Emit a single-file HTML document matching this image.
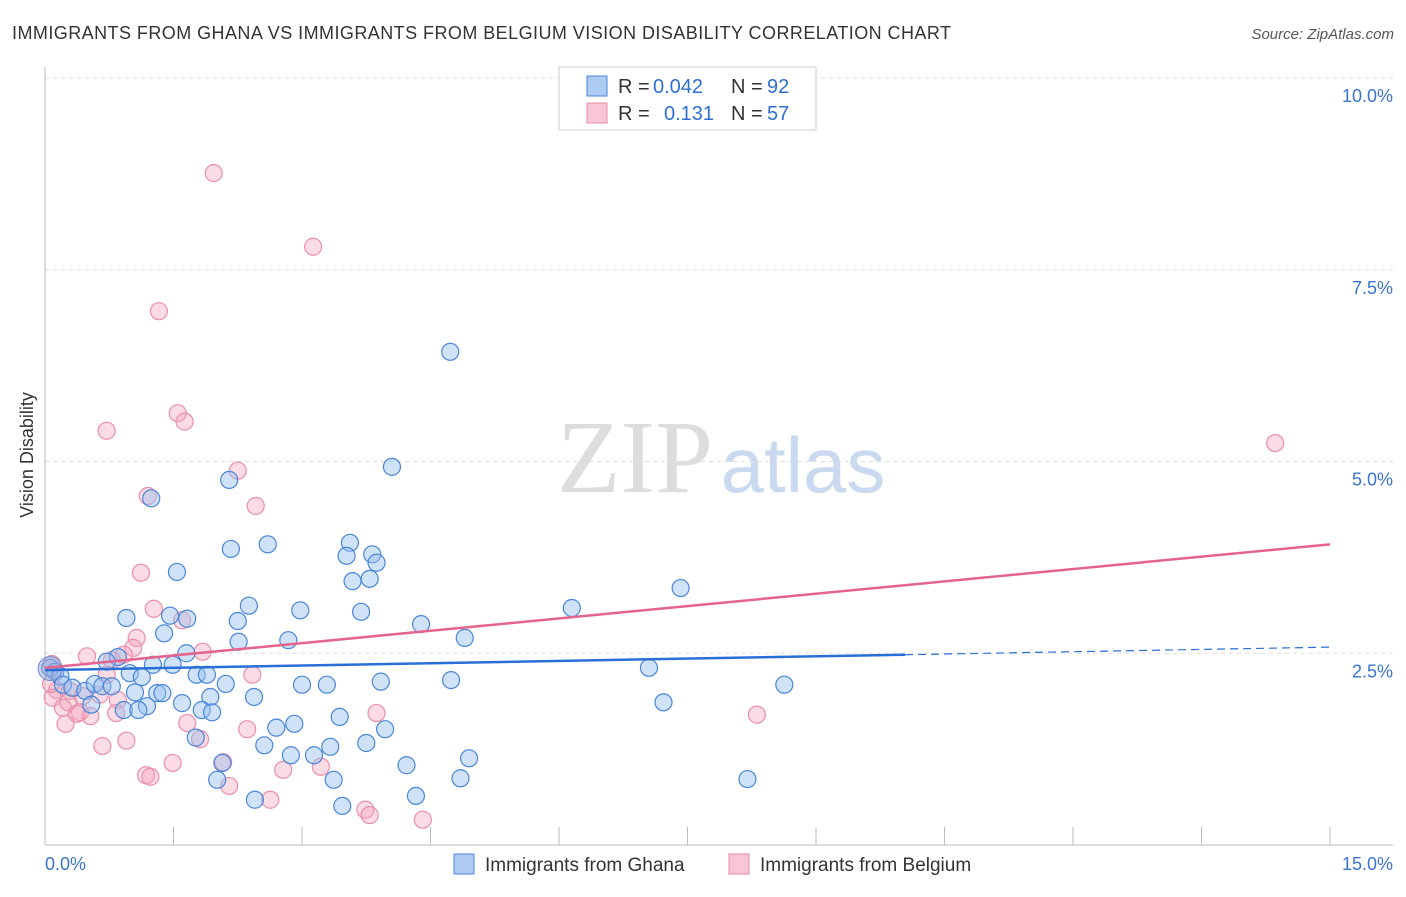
<!DOCTYPE html>
<html><head><meta charset="utf-8"><style>
body{margin:0;background:#fff;font-family:"Liberation Sans",sans-serif}
</style></head><body>
<svg width="1406" height="892" xmlns="http://www.w3.org/2000/svg" font-family="Liberation Sans, sans-serif">
<text x="12" y="39" font-size="18" fill="#333" textLength="939">IMMIGRANTS FROM GHANA VS IMMIGRANTS FROM BELGIUM VISION DISABILITY CORRELATION CHART</text>
<text x="1394" y="39" font-size="15" fill="#555" font-style="italic" text-anchor="end">Source: ZipAtlas.com</text>
<text x="33" y="455" font-size="18" fill="#333" text-anchor="middle" transform="rotate(-90 33 455)">Vision Disability</text>
<g><text x="635" y="492" font-size="104" fill="#ddd" font-family="Liberation Serif, serif" text-anchor="middle">ZIP</text><text x="803" y="492" font-size="78" fill="#c9daf0" text-anchor="middle">atlas</text></g>
<g id="grid"></g><g id="axes"></g><g id="marks"></g>
<g>
<rect x="559" y="67" width="257" height="63" fill="#fff" stroke="#ccc"/>
<rect x="587" y="76" width="20" height="20" fill="#aecbf2" stroke="#4a86d8"/>
<rect x="587" y="103" width="20" height="20" fill="#f8c6d4" stroke="#e88aa8"/>
<text x="618" y="93" font-size="20" fill="#333">R =</text><text x="653" y="93" font-size="20" fill="#2f6fd0">0.042</text>
<text x="731" y="93" font-size="20" fill="#333">N =</text><text x="767" y="93" font-size="20" fill="#2f6fd0">92</text>
<text x="618" y="120" font-size="20" fill="#333">R =</text><text x="664" y="120" font-size="20" fill="#2f6fd0">0.131</text>
<text x="731" y="120" font-size="20" fill="#333">N =</text><text x="767" y="120" font-size="20" fill="#2f6fd0">57</text>
</g>
<g>
<rect x="454" y="854" width="20" height="20" fill="#aecbf2" stroke="#4a86d8"/>
<text x="485" y="871" font-size="19" fill="#333">Immigrants from Ghana</text>
<rect x="729" y="854" width="20" height="20" fill="#f8c6d4" stroke="#e88aa8"/>
<text x="760" y="871" font-size="19" fill="#333">Immigrants from Belgium</text>
</g>
</svg>
<script>
const yTicks=[2.5,5.0,7.5,10.0];
const yTickLabels=["2.5%","5.0%","7.5%","10.0%"];
const xTickLabels=["0.0%","15.0%"];
const ghanaX=[4.73,4.05,2.15,1.24,2.17,2.60,3.56,3.52,3.82,3.87,1.54,3.59,3.79,7.42,2.38,2.98,3.69,6.15,0.95,1.46,1.66,2.25,4.39,1.39,2.26,2.84,4.90,1.65,0.85,0.72,1.26,1.49,7.05,0.06,0.12,0.18,0.99,1.13,1.77,1.89,0.21,0.32,0.47,0.58,0.67,0.78,2.11,3.00,3.29,3.92,4.74,8.63,1.05,1.31,1.37,1.93,2.44,1.60,0.54,1.19,0.92,1.09,1.83,1.95,7.22,3.44,2.91,2.70,3.97,1.76,3.75,2.56,3.33,2.87,3.14,4.95,2.07,4.22,2.01,3.37,4.85,8.20,4.33,2.45,3.47];
const ghanaY=[6.43,4.93,4.76,4.52,3.86,3.92,3.94,3.77,3.79,3.68,3.56,3.44,3.47,3.35,3.12,3.06,3.04,3.09,2.96,2.99,2.95,2.92,2.88,2.76,2.65,2.67,2.70,2.50,2.45,2.39,2.35,2.35,2.31,2.31,2.26,2.20,2.24,2.19,2.22,2.22,2.09,2.05,2.01,2.10,2.07,2.07,2.10,2.09,2.09,2.13,2.15,2.09,1.99,1.98,1.98,1.93,1.93,1.85,1.83,1.81,1.76,1.76,1.76,1.73,1.86,1.67,1.58,1.53,1.51,1.40,1.33,1.30,1.28,1.17,1.17,1.13,1.07,1.04,0.85,0.85,0.87,0.86,0.64,0.59,0.51];
const belgX=[1.97,3.13,1.33,1.55,1.63,0.72,14.36,2.25,1.20,2.46,1.12,1.27,1.60,1.07,1.03,0.92,1.84,0.49,0.78,0.08,2.42,0.72,0.14,0.29,0.09,0.44,0.64,0.27,0.85,0.21,0.41,0.53,0.37,0.83,3.87,8.31,0.24,1.66,2.36,1.81,0.95,0.67,2.78,1.49,1.18,1.23,2.08,3.22,2.15,2.63,3.74,3.79,4.41,0.07];
const belgY=[8.76,7.80,6.96,5.63,5.52,5.40,5.24,4.88,4.55,4.42,3.55,3.08,2.93,2.70,2.57,2.48,2.52,2.46,2.41,2.36,2.22,2.22,2.02,2.01,1.92,1.94,1.96,1.86,1.89,1.79,1.73,1.68,1.71,1.72,1.72,1.70,1.58,1.59,1.51,1.38,1.36,1.29,0.98,1.07,0.91,0.89,1.08,1.02,0.77,0.59,0.46,0.39,0.33,2.10];
const ghanaTrend=[2.28,2.58];
const belgTrend=[2.31,3.92];
const NS="http://www.w3.org/2000/svg";
const X0=45,X1=1330,Y0=845,YS=76.7;
function sx(v){return X0+v*(X1-X0)/15;}
function sy(v){return Y0-v*YS;}
function mk(tag,attrs,parent){const e=document.createElementNS(NS,tag);for(const k in attrs)e.setAttribute(k,attrs[k]);document.getElementById(parent).appendChild(e);return e;}
yTicks.forEach((t,i)=>{
 const g=mk('line',{x1:45,x2:1393,y1:sy(t),y2:sy(t),stroke:'#ddd','stroke-dasharray':'4,4'},'grid');
 
 
 const l=mk('text',{x:1393,y:sy(t)+24,'font-size':18,fill:'#3a74cc','text-anchor':'end'},'grid');
 l.textContent=yTickLabels[i];
 
 
});
const ya=mk('line',{x1:45,x2:45,y1:67,y2:845,stroke:'#bbb'},'axes');


const xa=mk('line',{x1:45,x2:1393,y1:845,y2:845,stroke:'#bbb'},'axes');


for(let i=1;i<=10;i++){const t=mk('line',{x1:sx(i*1.5),x2:sx(i*1.5),y1:827,y2:845,stroke:'#bbb'},'axes');
 
 }
[[0,'start',45],[1,'end',1393]].forEach(([i,a,x])=>{const t=mk('text',{x:x,y:870,'font-size':18,fill:'#3a74cc','text-anchor':a},'axes');t.textContent=xTickLabels[i];
 
 });
function pts(xs,ys,fill,stroke,name){xs.forEach((x,i)=>{const c=mk('circle',{cx:sx(x),cy:sy(ys[i]),r:8.5,fill:fill,stroke:stroke,'stroke-width':1.2},'marks');
 
 });}
pts(belgX,belgY,'rgba(245,165,188,0.4)','#e98fac','point-belgium');
pts(ghanaX,ghanaY,'rgba(150,190,240,0.45)','#4a86d8','point-ghana');
const big=mk('circle',{cx:sx(0.06),cy:sy(2.3),r:12,fill:'rgba(150,170,220,0.5)',stroke:'#6a8ad0'},'marks');


const xm=10.04;
const gy=x=>ghanaTrend[0]+(ghanaTrend[1]-ghanaTrend[0])*x/15;
const t1=mk('line',{x1:sx(0),y1:sy(gy(0)),x2:sx(xm),y2:sy(gy(xm)),stroke:'#2a6fd6','stroke-width':2.5},'marks');


const t2=mk('line',{x1:sx(xm),y1:sy(gy(xm)),x2:sx(15),y2:sy(gy(15)),stroke:'#2a6fd6','stroke-width':1.2,'stroke-dasharray':'8,5'},'marks');


const t3=mk('line',{x1:sx(0),y1:sy(belgTrend[0]),x2:sx(15),y2:sy(belgTrend[1]),stroke:'#e5648e','stroke-width':2.5},'marks');


</script>
</body></html>
